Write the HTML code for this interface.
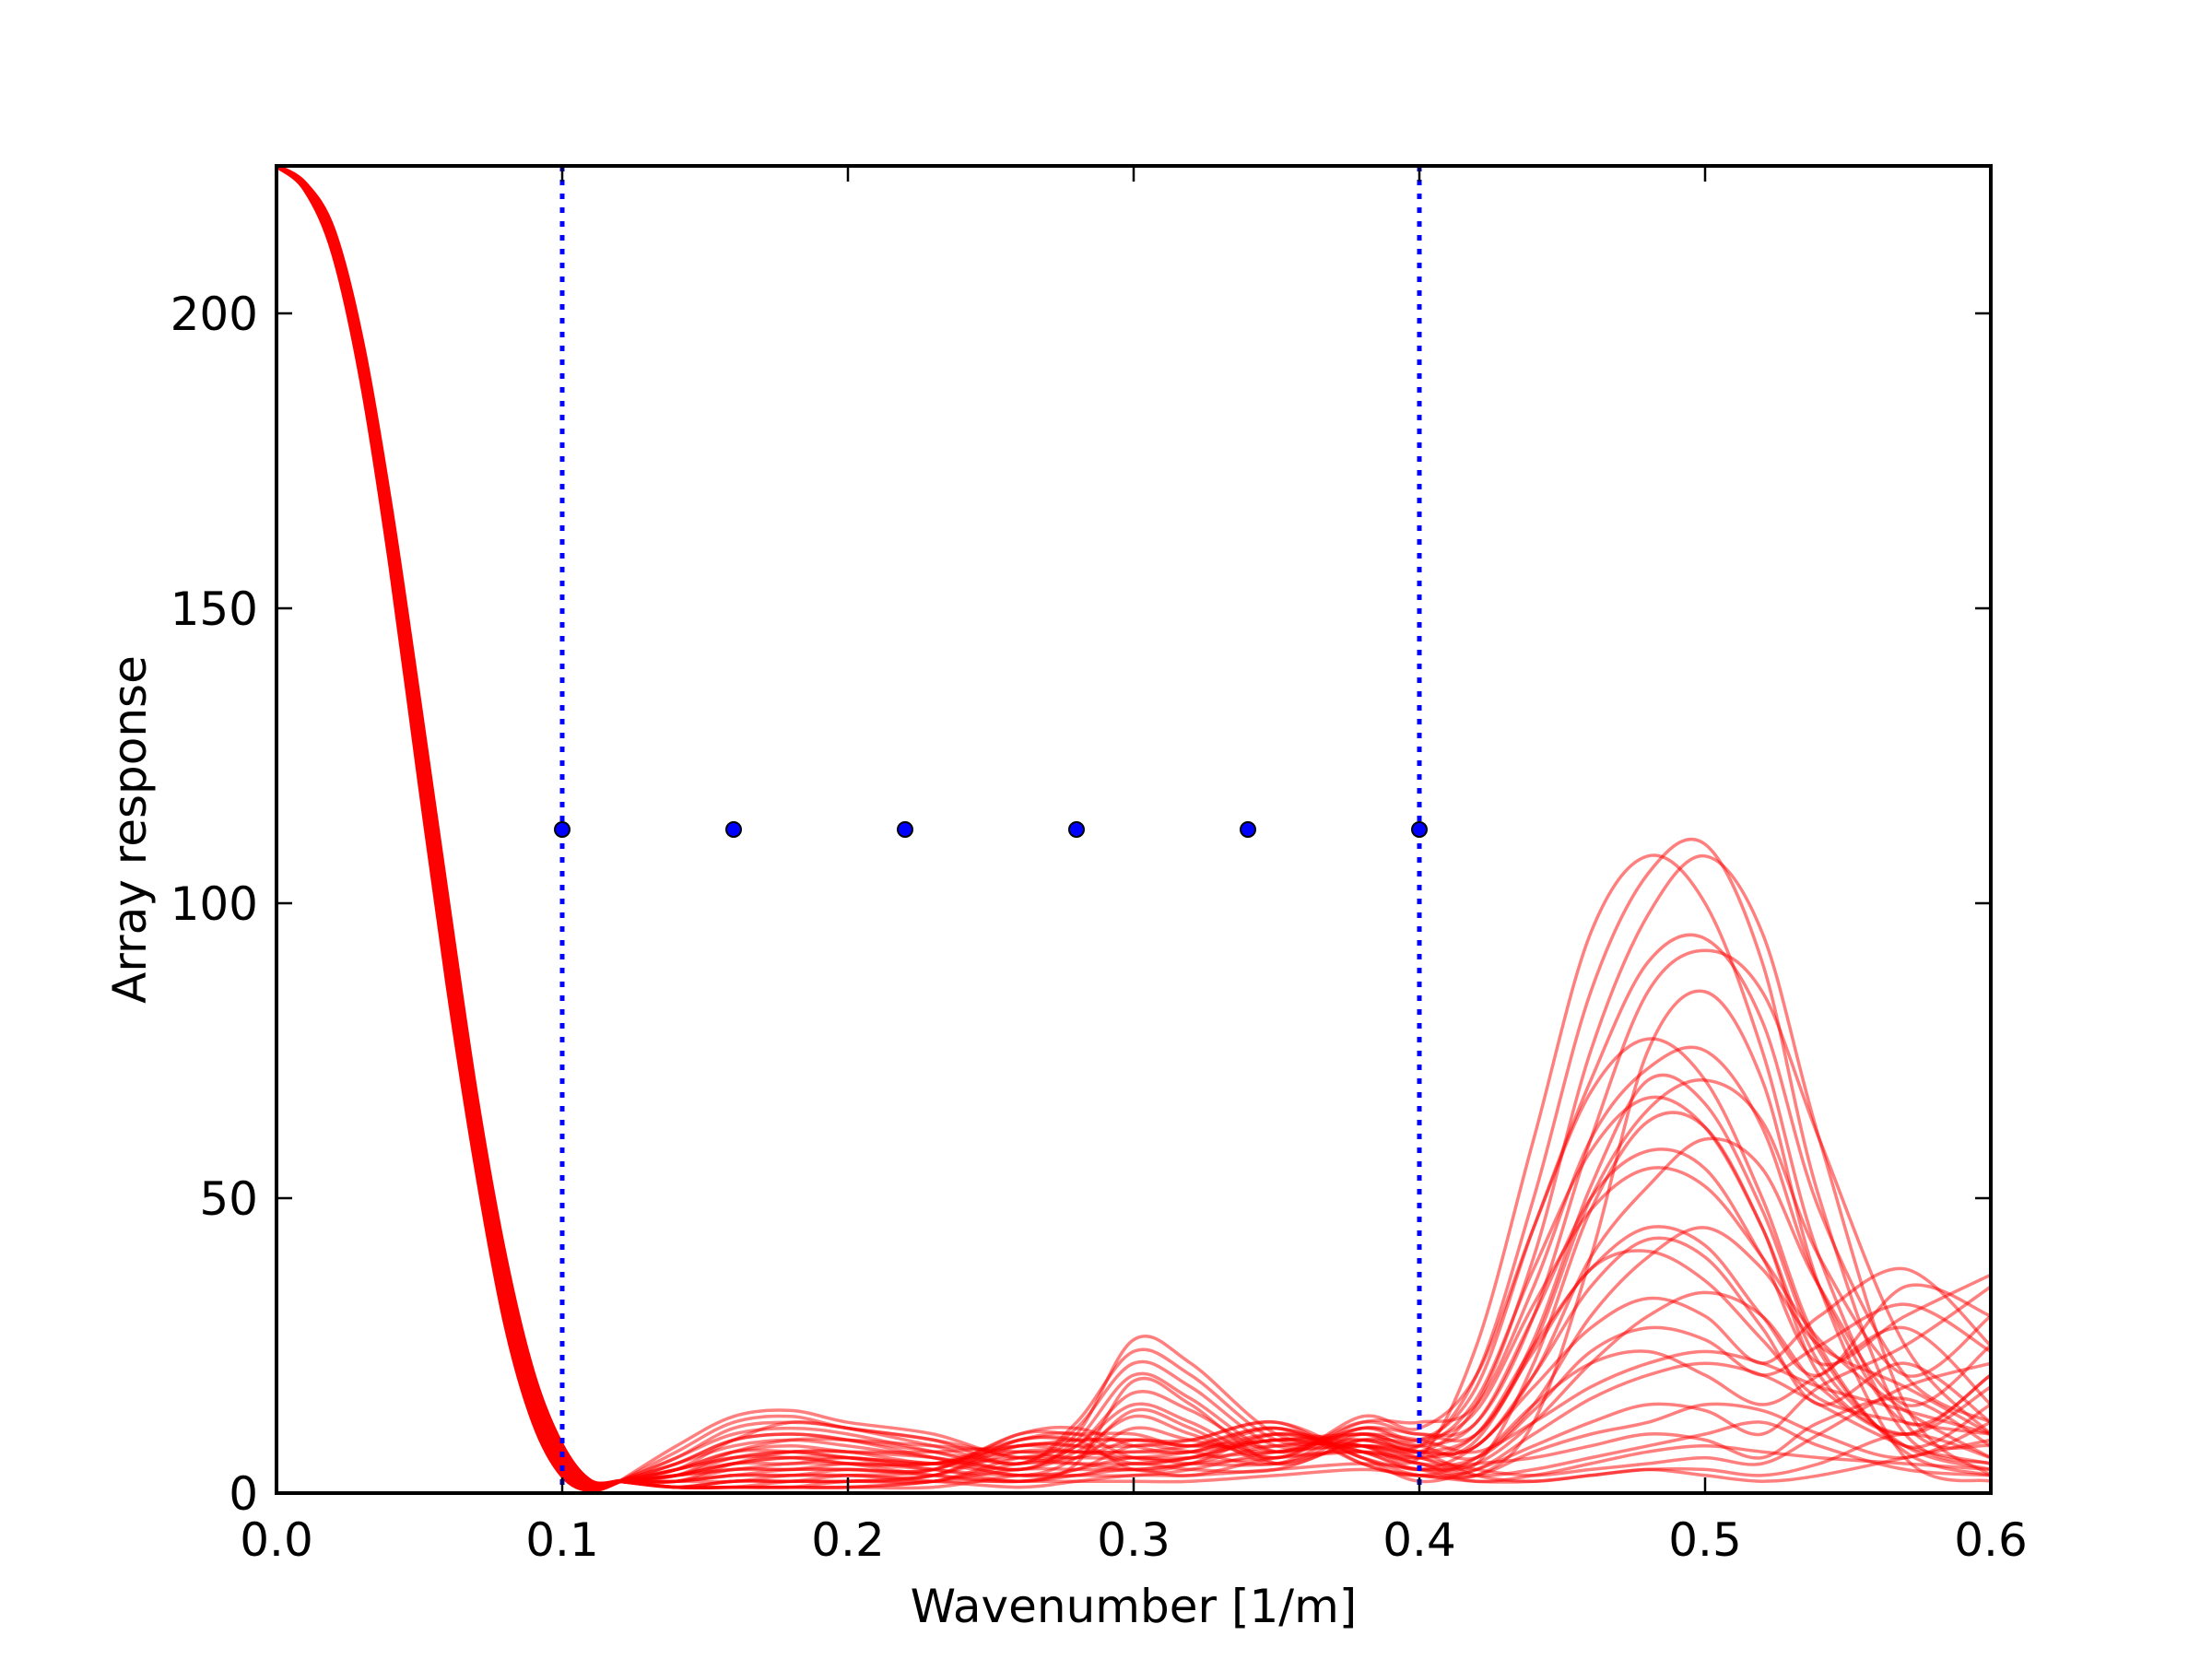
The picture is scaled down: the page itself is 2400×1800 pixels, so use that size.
<!DOCTYPE html>
<html><head><meta charset="utf-8"><style>
html,body{margin:0;padding:0;background:#fff}
svg{display:block}
text{font-family:"DejaVu Sans","Liberation Sans",sans-serif;fill:#000}
</style></head><body>
<svg id="chart" width="2400" height="1800" viewBox="0 0 2400 1800" xmlns="http://www.w3.org/2000/svg">
<rect x="0" y="0" width="2400" height="1800" fill="#fff"/>
<g id="plot"></g>
<g id="axes"></g>
</svg>
<script>
const X_TICKS = [0.0, 0.1, 0.2, 0.3, 0.4, 0.5, 0.6];
const X_TICK_LABELS = ["0.0","0.1","0.2","0.3","0.4","0.5","0.6"];
const Y_TICKS = [0, 50, 100, 150, 200];
const Y_TICK_LABELS = ["0","50","100","150","200"];
const MAIN_K = [0,0.01,0.02,0.03,0.04,0.05,0.06,0.07,0.08,0.09,0.10,0.11,0.12];
const MAIN_OUT = [225,222,214,195,167,134,100,67,40,20,8,2,2];
const MAIN_IN = [225,221,210,188,157,121,86,55,29,12,3,0.5,2];
const SIDE_K = [0.12,0.14,0.16,0.18,0.20,0.23,0.26,0.28,0.30,0.32,0.35,0.38,0.40,0.42,0.44,0.46,0.48,0.50,0.52,0.54,0.57,0.60];
const SIDE_CURVES = [
[2,8,13,14,12,10,6,10,26,22,10,8,6,25,60,95,108,100,75,40,10,5],
[2,7,12,13,11,9,5,12,24,20,9,9,8,20,50,85,105,110,90,50,12,8],
[2,6,11,12,11,8,5,11,22,18,8,10,7,15,40,75,98,108,95,60,15,3],
[2,6,10,11,10,7,4,9,20,16,7,11,9,18,45,70,90,94,80,48,20,12],
[2,5,9,10,9,7,5,8,17,14,7,12,10,12,30,60,85,92,85,60,25,10],
[2,5,8,9,8,6,4,8,15,12,6,13,11,20,45,68,77,70,50,25,8,15],
[2,4,7,8,7,6,4,7,13,10,6,12,12,15,35,60,72,75,62,35,12,20],
[2,4,6,7,7,5,6,6,11,9,7,11,10,10,25,50,65,70,63,40,20,30],
[2,3,5,6,6,5,7,6,9,8,8,10,8,12,30,50,58,55,40,22,30,37],
[2,3,5,5,6,5,8,7,7,7,9,9,7,8,20,40,52,60,55,35,15,25],
[2,3,4,5,5,5,8,8,5,6,9,8,6,10,25,38,45,42,30,20,35,30],
[2,2,4,4,5,5,9,9,4,5,10,8,5,6,15,30,40,45,38,25,18,10],
[2,2,3,4,4,4,9,10,6,6,10,7,4,8,18,28,33,30,22,30,38,25],
[2,2,3,3,4,4,10,11,8,7,11,6,4,5,12,22,30,34,30,18,10,20],
[2,2,2,3,3,4,10,10,10,8,11,5,3,6,15,22,24,20,15,20,28,15],
[2,1,2,2,3,3,9,9,9,9,12,5,3,4,10,16,20,22,20,15,8,5],
[2,1,2,2,2,3,8,8,8,9,12,6,2,4,8,12,15,14,10,18,25,35],
[2,1,1,2,2,3,7,7,7,8,11,6,3,3,7,10,12,15,14,10,6,12],
[2,1,1,1,2,2,6,6,6,7,10,7,4,5,6,8,10,9,6,12,16,8],
[2,1,1,1,1,2,5,5,5,6,9,7,5,3,4,6,8,10,12,8,4,3],
[2,1,1,1,1,2,4,4,4,5,8,8,6,4,3,4,5,6,5,10,18,22],
[2,1,1,1,1,1,3,3,3,4,7,8,7,3,2,3,4,4,3,5,10,6],
[2,3,4,4,4,3,2,3,4,3,6,7,5,3,12,40,75,85,70,35,6,2],
[2,4,6,6,5,4,2,4,6,5,5,8,6,5,22,48,63,62,45,20,10,18],
[2,3,5,6,5,3,2,5,19,15,5,9,7,8,20,35,43,40,28,15,22,12],
[2,5,9,10,9,6,3,6,14,11,5,10,8,16,38,58,67,62,45,22,8,4],
[2,4,7,7,6,4,3,4,8,7,5,11,9,14,32,48,55,52,40,26,14,6],
[2,3,6,7,6,5,3,3,5,4,4,9,8,6,14,24,28,26,20,25,32,24],
[2,2,3,3,3,2,1,2,3,3,4,5,4,2,3,5,7,8,7,6,5,4],
[2,1,2,2,2,2,2,2,2,2,3,4,3,2,2,3,4,3,2,3,6,9],
[2,4,9,12,11,9,6,5,4,5,6,7,6,9,26,52,70,66,48,24,7,3],
[2,3,7,9,9,8,7,7,6,6,7,8,7,10,24,38,41,36,26,16,12,10],
[2,2,5,7,7,7,8,9,9,8,9,10,9,7,12,18,22,24,22,18,14,10]
];
const VLINES = [0.1, 0.4];
const DOT_K = [0.1, 0.16, 0.22, 0.28, 0.34, 0.4];
const DOT_V = [112.5, 112.5, 112.5, 112.5, 112.5, 112.5];

const L=300,R=2160,T=180,B=1620, XMAX=0.6, YMAX=225;
const NS="http://www.w3.org/2000/svg";
function sx(v){return L+(v/XMAX)*(R-L);}
function sy(v){return B-(v/YMAX)*(B-T);}
function mk(tag,attrs,parent){const e=document.createElementNS(NS,tag);for(const k in attrs)e.setAttribute(k,attrs[k]);parent.appendChild(e);return e;}
function pts(ks,vs){return ks.map((k,i)=>[sx(k),sy(vs[i])]);}
function segs(p){
  let d="";
  for(let i=0;i<p.length-1;i++){
    const p0=p[Math.max(0,i-1)],p1=p[i],p2=p[i+1],p3=p[Math.min(p.length-1,i+2)];
    const c1x=p1[0]+(p2[0]-p0[0])/6, c1y=Math.min(B,p1[1]+(p2[1]-p0[1])/6);
    const c2x=p2[0]-(p3[0]-p1[0])/6, c2y=Math.min(B,p2[1]-(p3[1]-p1[1])/6);
    d+=" C"+c1x.toFixed(1)+","+c1y.toFixed(1)+" "+c2x.toFixed(1)+","+c2y.toFixed(1)+" "+p2[0].toFixed(1)+","+p2[1].toFixed(1);
  }
  return d;
}
function smoothPath(ks,vs){const p=pts(ks,vs);return "M"+p[0][0].toFixed(1)+","+p[0][1].toFixed(1)+segs(p);}
const plot=document.getElementById('plot');
const axes=document.getElementById('axes');
const defs=mk('defs',{},plot);
const cp=mk('clipPath',{id:'clip'},defs);
mk('rect',{x:L,y:T,width:R-L,height:B-T},cp);
const g=mk('g',{'clip-path':'url(#clip)'},plot);

SIDE_CURVES.forEach((vals)=>{
  const el=mk('path',{d:smoothPath(SIDE_K,vals),fill:'none',stroke:'#ff0000','stroke-opacity':'0.5','stroke-width':'3.5'},g);
  
  
});
// main lobe band
const po=pts(MAIN_K,MAIN_OUT), pi=pts(MAIN_K,MAIN_IN).reverse();
const bandD="M"+po[0][0]+","+po[0][1]+segs(po)+" L"+pi[0][0]+","+pi[0][1]+segs(pi)+" Z";
const band=mk('path',{d:bandD,fill:'#ff0000',stroke:'#ff0000','stroke-width':'5','stroke-linejoin':'round'},g);



VLINES.forEach(k=>{
  const el=mk('line',{x1:sx(k),x2:sx(k),y1:T,y2:B,stroke:'#0000ff','stroke-width':'5','stroke-dasharray':'6,9'},g);
  
  
});
DOT_K.forEach((k,i)=>{
  const el=mk('circle',{cx:sx(k),cy:sy(DOT_V[i]),r:'8',fill:'#0000ff',stroke:'#000','stroke-width':'2'},g);
  
  
});

X_TICKS.forEach((v,i)=>{
  const x=sx(v);
  mk('line',{x1:x,x2:x,y1:B,y2:B-17,stroke:'#000','stroke-width':'2.5'},axes);
  mk('line',{x1:x,x2:x,y1:T,y2:T+17,stroke:'#000','stroke-width':'2.5'},axes);
  const t=mk('text',{x:x,y:B+68,'font-size':'50','text-anchor':'middle'},axes);
  t.textContent=X_TICK_LABELS[i];
  
  
});
Y_TICKS.forEach((v,i)=>{
  const y=sy(v);
  mk('line',{x1:L,x2:L+17,y1:y,y2:y,stroke:'#000','stroke-width':'2.5'},axes);
  mk('line',{x1:R,x2:R-17,y1:y,y2:y,stroke:'#000','stroke-width':'2.5'},axes);
  const t=mk('text',{x:L-20,y:y+18,'font-size':'50','text-anchor':'end'},axes);
  t.textContent=Y_TICK_LABELS[i];
  
  
});
const frame=mk('rect',{x:L,y:T,width:R-L,height:B-T,fill:'none',stroke:'#000','stroke-width':'4'},axes);


const xl=mk('text',{x:(L+R)/2,y:1760,'font-size':'50','text-anchor':'middle'},axes);
xl.textContent='Wavenumber [1/m]';


const yl=mk('text',{x:0,y:0,'font-size':'50','text-anchor':'middle',transform:'translate(158,900) rotate(-90)'},axes);
yl.textContent='Array response';


</script>
</body></html>
